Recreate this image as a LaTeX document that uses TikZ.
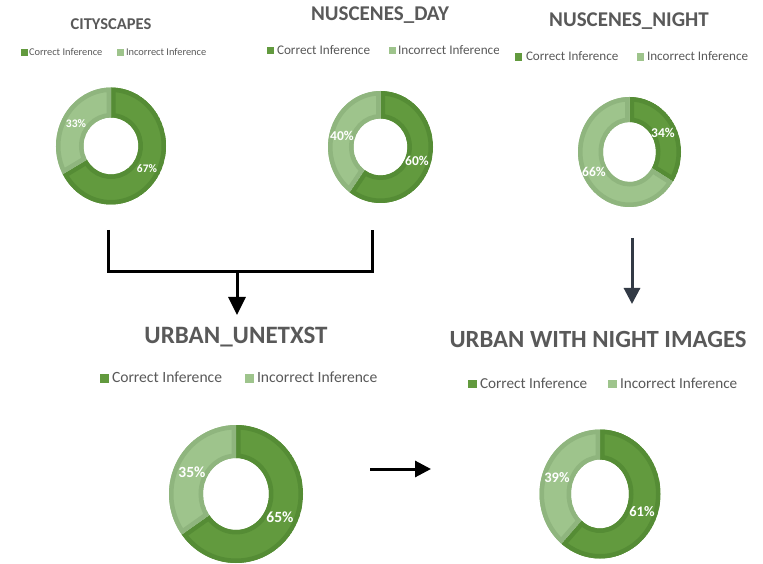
\documentclass[tikz,border=0pt]{standalone}
\usepackage{fontspec}
\setmainfont{Carlito}
\usetikzlibrary{arrows.meta}
\definecolor{cfill}{HTML}{629A3E}
\definecolor{cbord}{HTML}{558C35}
\definecolor{ifill}{HTML}{9EC48C}
\definecolor{ibord}{HTML}{8FB57E}
\definecolor{titlegray}{HTML}{595959}
\definecolor{arrowslate}{HTML}{323A45}
% ring segment: center, rx, ry, irx, iry, a1, a2, fill, border
\newcommand\dseg[9]{%
  \begin{scope}
    \clip (#1) ++(#6:#2 and #3) arc[start angle=#6,end angle=#7,x radius=#2,y radius=#3] -- ([shift={(#7:#4 and #5)}]#1) arc[start angle=#7,end angle=#6,x radius=#4,y radius=#5] -- cycle;
    \fill[#8] (#1) ++(#6:#2 and #3) arc[start angle=#6,end angle=#7,x radius=#2,y radius=#3] -- ([shift={(#7:#4 and #5)}]#1) arc[start angle=#7,end angle=#6,x radius=#4,y radius=#5] -- cycle;
    \draw[#9,line width=9pt] (#1) ++(#6:#2 and #3) arc[start angle=#6,end angle=#7,x radius=#2,y radius=#3] -- ([shift={(#7:#4 and #5)}]#1) arc[start angle=#7,end angle=#6,x radius=#4,y radius=#5] -- cycle;
  \end{scope}}
\newcommand\donut[6]{%
  \dseg{#1}{#2}{#3}{#4}{#5}{90}{#6}{cfill}{cbord}%
  \dseg{#1}{#2}{#3}{#4}{#5}{#6}{-270}{ifill}{ibord}}
% legend: prefix, sq1 x, txt1 x, sq2 x, txt2 x, baseline, square size, font size
\newcommand\legendrow[8]{%
  \node[sq,minimum size=#7pt,fill=cfill] (#1sa) at (#2,#6) {};
  \node[lg,font=\fontsize{#8}{#8}\selectfont] (#1ta) at (#3,#6) {Correct Inference};
  \node[sq,minimum size=#7pt,fill=ifill] (#1sb) at (#4,#6) {};
  \node[lg,font=\fontsize{#8}{#8}\selectfont] (#1tb) at (#5,#6) {Incorrect Inference};}
\tikzset{
  sq/.style={inner sep=0pt,outer sep=0pt,anchor=south west},
  lg/.style={inner sep=0pt,outer sep=0pt,anchor=base west,text=titlegray},
  ttl/.style={inner sep=0pt,anchor=base,text=titlegray},
  pct/.style={inner sep=0pt,text=white},
  conn/.style={line width=3pt,line join=miter},
}
\begin{document}
\begin{tikzpicture}[x=1pt,y=1pt]
\useasboundingbox (0,0) rectangle (763,563);
\fill[white] (0,0) rectangle (763,563);

% titles
\node[ttl,font=\fontsize{16.5}{18}\bfseries] (t1) at (111,533.7) {CITYSCAPES};
\node[ttl,font=\fontsize{21}{24}\bfseries] (t2) at (380,542) {NUSCENES\_DAY};
\node[ttl,font=\fontsize{21}{24}\bfseries] (t3) at (629,536) {NUSCENES\_NIGHT};
\node[ttl,font=\fontsize{25}{28}\bfseries] (t4) at (236,219) {URBAN\_UNETXST};
\node[ttl,font=\fontsize{24.7}{28}\bfseries] (t5) at (598,215) {URBAN WITH NIGHT IMAGES};

% legends
\legendrow{l1}{21}{29}{117}{126}{507}{6.5}{10.4}
\begin{scope}
  \clip (250,490) rectangle (498,530);
  \legendrow{l2}{267}{277}{389}{398}{508.7}{7}{13.2}
\end{scope}
\legendrow{l3}{515}{526}{637}{647}{502.3}{7.3}{13.1}
\legendrow{l4}{100}{112}{245}{257}{180.3}{8.5}{15.6}
\legendrow{l5}{468}{480}{608}{620}{174.7}{8.7}{15.2}

% donuts
\coordinate (d1) at (111,417);
\coordinate (d2) at (380.5,416);
\coordinate (d3) at (629.5,411);
\coordinate (d4) at (236,69);
\coordinate (d5) at (600,69);
\donut{d1}{55pt}{58.5pt}{27.5pt}{28.5pt}{-151.2}
\donut{d2}{52.5pt}{56pt}{27pt}{28.5pt}{-126}
\donut{d3}{51.5pt}{55pt}{26.5pt}{30pt}{-32.4}
\donut{d4}{67pt}{69pt}{33pt}{36pt}{-144}
\donut{d5}{60.5pt}{64.5pt}{29pt}{34.5pt}{-129.6}

% percentages
\node[pct,font=\fontsize{11.5}{12}\bfseries] (p1a) at (147,394) {67\%};
\node[pct,font=\fontsize{11.5}{12}\bfseries] (p1b) at (76,439) {33\%};
\node[pct,font=\fontsize{13.5}{14}\bfseries] (p2a) at (417,402) {60\%};
\node[pct,font=\fontsize{13.5}{14}\bfseries] (p2b) at (342,427) {40\%};
\node[pct,font=\fontsize{13.5}{14}\bfseries] (p3a) at (663,430) {34\%};
\node[pct,font=\fontsize{13.5}{14}\bfseries] (p3b) at (594,391) {66\%};
\node[pct,font=\fontsize{15.5}{16}\bfseries] (p4a) at (280,46) {65\%};
\node[pct,font=\fontsize{15.5}{16}\bfseries] (p4b) at (192,91) {35\%};
\node[pct,font=\fontsize{14.5}{15}\bfseries] (p5a) at (642,51) {61\%};
\node[pct,font=\fontsize{14.5}{15}\bfseries] (p5b) at (557,85) {39\%};

% connectors
\coordinate (bl) at (108,333);
\coordinate (blc) at (108,291);
\coordinate (br) at (372,333);
\coordinate (brc) at (372,291);
\coordinate (bj) at (237,291);
\coordinate (bt) at (237,248);
\draw[conn] (bl) -- (blc) -- (brc) -- (br);
\draw[conn,-{Triangle[width=17pt,length=18pt]}] (bj) -- (bt);
\coordinate (ns) at (632,325);
\coordinate (ne) at (632,259);
\draw[conn,arrowslate,-{Triangle[width=16pt,length=16pt]}] (ns) -- (ne);
\coordinate (hs) at (370,94);
\coordinate (he) at (431,94);
\draw[conn,-{Triangle[width=16pt,length=16pt]}] (hs) -- (he);
\end{tikzpicture}
\end{document}
